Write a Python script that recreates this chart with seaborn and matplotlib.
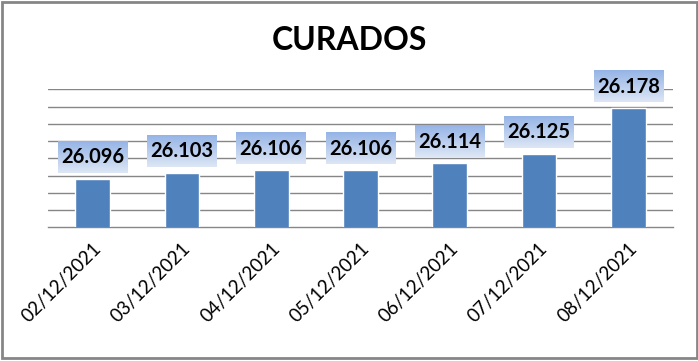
import numpy as np
import pandas as pd
import matplotlib
matplotlib.use("Agg")
import matplotlib.pyplot as plt
import seaborn as sns
from matplotlib.patches import Rectangle
from matplotlib.colors import LinearSegmentedColormap

# ---- data ----
categories = ["02/12/2021", "03/12/2021", "04/12/2021", "05/12/2021",
              "06/12/2021", "07/12/2021", "08/12/2021"]
values = [26096, 26103, 26106, 26106, 26114, 26125, 26178]
title = "CURADOS"

y_min, y_max, y_step = 26040, 26200, 20

df = pd.DataFrame({"fecha": categories, "curados": values})

sns.set_theme(style="white")
plt.rcParams["font.family"] = ["Lato", "DejaVu Sans"]

W, H = 698, 361
fig = plt.figure(figsize=(W / 100, H / 100), dpi=100)
ax = fig.add_axes([48 / W, (H - 227.3) / H, (673 - 48) / W, 138 / H])

grid_c = "#868686"
bar_c = "#4F81BD"

sns.barplot(data=df, x="fecha", y="curados", color=bar_c, width=0.39,
            saturation=1, ax=ax, zorder=3)

ax.set_ylim(y_min, y_max)
ax.set_xlim(-0.5, len(categories) - 0.5)
for gy in np.arange(y_min + y_step, y_max + 1, y_step):
    ax.axhline(gy, color=grid_c, lw=1.0, zorder=1)

for s in ["left", "right", "top"]:
    ax.spines[s].set_visible(False)
ax.spines["bottom"].set_color(grid_c)
ax.spines["bottom"].set_linewidth(1.0)
ax.set_yticks([])
ax.set_xlabel("")
ax.set_ylabel("")

# ticks at category boundaries
ax.set_xticks(np.arange(-0.5, len(categories), 1.0), minor=True)
ax.tick_params(axis="x", which="minor", length=6, color=grid_c, width=1, direction="out")
ax.tick_params(axis="x", which="major", length=0, pad=9)
ax.set_xticks(range(len(categories)))
ax.set_xticklabels(categories, rotation=45, ha="right", rotation_mode="anchor",
                   fontsize=13.5, color="black")

# value label boxes with gradient
cmap = LinearSegmentedColormap.from_list("lbl", ["#dde6f5", "#95b4e6"])
grad = np.linspace(0, 1, 64).reshape(-1, 1)
for i, v in enumerate(values):
    y0 = v + 7
    y1 = v + 43
    ax.imshow(grad, extent=(i - 0.39, i + 0.39, y0, y1), origin="lower",
              cmap=cmap, aspect="auto", zorder=4, clip_on=False)
    label = f"{v:,}".replace(",", ".")
    ax.text(i, (y0 + y1) / 2, label, ha="center", va="center", fontsize=14.5,
            fontweight="bold", color="black", zorder=5, clip_on=False)
ax.set_xlim(-0.5, len(categories) - 0.5)
ax.set_ylim(y_min, y_max)

fig.text(0.5, 1 - 41 / H, title, ha="center", va="center", fontsize=23,
         fontweight="bold", color="black")

fig.patches.append(Rectangle((1.5 / W, 3 / H), 695 / W, 356.5 / H,
                             transform=fig.transFigure, fill=False,
                             edgecolor=grid_c, linewidth=2.0))

fig.savefig("out.png", dpi=100)
